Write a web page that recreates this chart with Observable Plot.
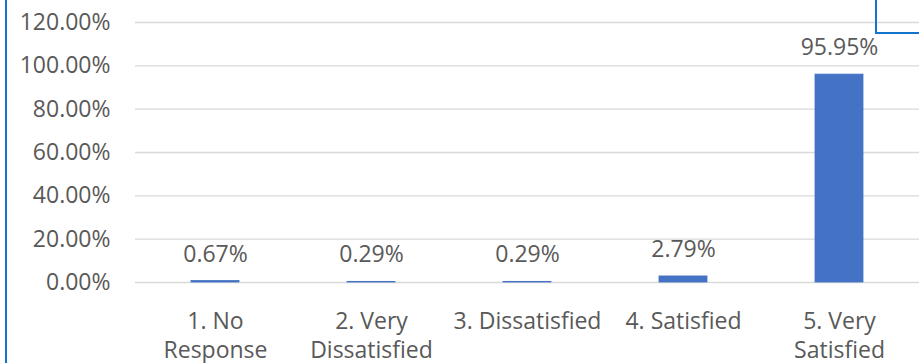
<!DOCTYPE html>
<html>
<head>
<meta charset="utf-8">
<script src="https://cdn.jsdelivr.net/npm/d3@7"></script>
<script src="https://cdn.jsdelivr.net/npm/@observablehq/plot@0.6"></script>
<style>
  html, body { margin: 0; padding: 0; background: #fff; }
  #wrap { position: relative; width: 919px; height: 363px; overflow: hidden; }
  #wrap svg { position: absolute; left: 0; top: 0; }
  .edge-left { position: absolute; left: 5px; top: 0; width: 2px; height: 363px; background: #1274cc; }
  .corner-box { position: absolute; left: 875px; top: -2px; width: 60px; height: 36px;
                border-left: 2px solid #1274cc; border-bottom: 2px solid #1274cc; box-sizing: border-box; }
</style>
</head>
<body>
<div id="wrap">
  <div class="edge-left"></div>
  <div class="corner-box"></div>
</div>
<script>
// Satisfaction survey: share of responses per rating
const categories = ["1. No Response", "2. Very Dissatisfied", "3. Dissatisfied", "4. Satisfied", "5. Very Satisfied"];
const tickLabels = ["1. No\nResponse", "2. Very\nDissatisfied", "3. Dissatisfied", "4. Satisfied", "5. Very\nSatisfied"];
const shares = [0.0067, 0.0029, 0.0029, 0.0279, 0.9595];
const valueLabels = ["0.67%", "0.29%", "0.29%", "2.79%", "95.95%"];
const yTicks = [0, 0.2, 0.4, 0.6, 0.8, 1.0, 1.2];

const rows = categories.map((c, i) => ({category: c, share: shares[i], label: valueLabels[i]}));
const tickByCategory = new Map(categories.map((c, i) => [c, tickLabels[i]]));

const textColor = "#595959";
const barColor = "#4472c4";
const font = "'Open Sans', sans-serif";

const chart = Plot.plot({
  width: 919,
  height: 363,
  marginTop: 22,
  marginBottom: 81,
  marginLeft: 135,
  marginRight: 0,
  style: {fontFamily: font, fontSize: "23px", color: textColor, background: "transparent", overflow: "visible"},
  x: {domain: categories, paddingInner: 0.69, paddingOuter: 0.345, align: 0.5, label: null},
  y: {domain: [0, 1.2], label: null},
  marks: [
    Plot.gridY(yTicks, {stroke: "#d9d9d9", strokeOpacity: 1, strokeWidth: 1.4}),
    Plot.axisY(yTicks, {
      tickSize: 0,
      tickPadding: 25,
      tickFormat: d => d3.format(".2%")(d),
      fontSize: 23,
      fill: textColor
    }),
    Plot.axisX({
      tickSize: 0,
      tickPadding: 26,
      tickFormat: d => tickByCategory.get(d),
      lineAnchor: "top",
      lineHeight: 1.25,
      fontSize: 23,
      fill: textColor
    }),
    // thin outline keeps the tiny shares visible as a line on the baseline
    Plot.barY(rows, {x: "category", y: "share", fill: barColor, stroke: barColor, strokeWidth: 0.8}),
    Plot.text(rows, {
      x: "category",
      y: "share",
      text: "label",
      dy: -19.5,
      lineAnchor: "bottom",
      fontSize: 23,
      fill: textColor
    })
  ]
});

document.getElementById("wrap").prepend(chart);
</script>
</body>
</html>
